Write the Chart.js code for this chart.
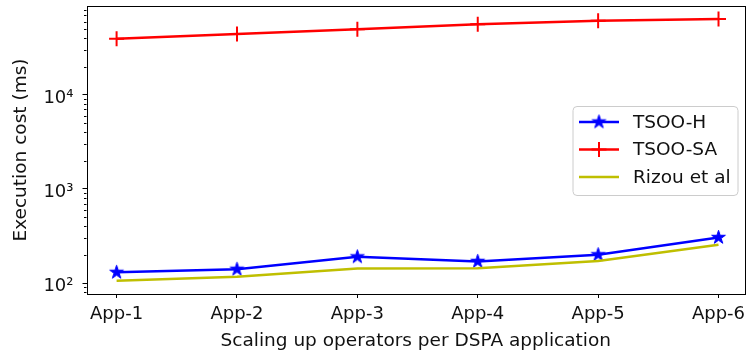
<!DOCTYPE html>
<html>
<head>
<meta charset="utf-8">
<script src="https://cdn.jsdelivr.net/npm/chart.js@4/dist/chart.umd.min.js"></script>
<style>
  html, body { margin: 0; padding: 0; background: #fff; }
  canvas { display: block; }
</style>
</head>
<body>
<canvas id="chart" width="746" height="356"></canvas>
<script>
// Applications on the x axis
const categories = ['App-1', 'App-2', 'App-3', 'App-4', 'App-5', 'App-6'];

// Execution cost per application (ms)
const tsooH  = [130, 140, 190, 170, 200, 305];
const tsooSA = [39500, 44500, 50000, 56500, 61500, 64000];
const rizou  = [106, 117, 143, 144, 172, 255];

// Labelled decades on the log axis
const yTickValues = [100, 1000, 10000];
const yTickLabels = ['10²', '10³', '10⁴'];

const seriesNames = ['TSOO-H', 'TSOO-SA', 'Rizou et al'];

const FONT = "'DejaVu Sans', sans-serif";
const TEXT = '#111';
const FS = 18.5;

// Filled five-point star used as the TSOO-H marker
function makeStar(color, r) {
  const size = Math.ceil(2 * r + 4);
  const c = document.createElement('canvas');
  c.width = size; c.height = size;
  const g = c.getContext('2d');
  const cx = size / 2, cy = size / 2;
  g.beginPath();
  for (let k = 0; k < 10; k++) {
    const a = -Math.PI / 2 + k * Math.PI / 5;
    const rad = k % 2 === 0 ? r : r * 0.382;
    const px = cx + rad * Math.cos(a), py = cy + rad * Math.sin(a);
    if (k === 0) g.moveTo(px, py); else g.lineTo(px, py);
  }
  g.closePath();
  g.fillStyle = color;
  g.fill();
  g.strokeStyle = color;
  g.lineWidth = 1;
  g.stroke();
  return c;
}
const starMarker = makeStar('#0000ff', 7.2);

const toPoints = arr => arr.map((v, i) => ({ x: i, y: v }));

// Axes frame, minor log ticks and the legend box
const framePlugin = {
  id: 'frame',
  afterDatasetsDraw(chart) {
    const { ctx, chartArea: a, scales: { y } } = chart;
    ctx.save();
    ctx.strokeStyle = '#000';
    ctx.lineWidth = 1;
    // minor ticks on the log axis
    for (let d = 10; d <= 100000; d *= 10) {
      for (let m = 2; m <= 9; m++) {
        const v = m * d;
        if (v < y.min || v > y.max) continue;
        const py = Math.round(y.getPixelForValue(v)) + 0.5;
        ctx.beginPath();
        ctx.moveTo(a.left - 2.5, py);
        ctx.lineTo(a.left, py);
        ctx.stroke();
      }
    }
    // spines
    ctx.strokeRect(Math.round(a.left) + 0.5, Math.round(a.top) + 0.5,
                   Math.round(a.right - a.left) - 1, Math.round(a.bottom - a.top));

    // legend
    const bw = 165, bh = 89, r = 4;
    const bx = a.right - 7 - bw, by = a.top + 100.5;
    ctx.beginPath();
    ctx.moveTo(bx + r, by);
    ctx.arcTo(bx + bw, by, bx + bw, by + bh, r);
    ctx.arcTo(bx + bw, by + bh, bx, by + bh, r);
    ctx.arcTo(bx, by + bh, bx, by, r);
    ctx.arcTo(bx, by, bx + bw, by, r);
    ctx.closePath();
    ctx.fillStyle = 'rgba(255,255,255,0.8)';
    ctx.fill();
    ctx.strokeStyle = '#cccccc';
    ctx.stroke();

    chart.data.datasets.forEach((ds, i) => {
      const ey = by + 15.5 + i * 27.5;
      const x0 = bx + 6, x1 = bx + 46, xm = (x0 + x1) / 2;
      ctx.strokeStyle = ds.borderColor;
      ctx.lineWidth = ds.borderWidth;
      ctx.beginPath();
      ctx.moveTo(x0, ey);
      ctx.lineTo(x1, ey);
      ctx.stroke();
      if (ds.pointRadius > 0) {
        ctx.fillStyle = ds.pointBackgroundColor;
        ctx.strokeStyle = ds.pointBorderColor;
        ctx.lineWidth = ds.pointBorderWidth;
        Chart.helpers.drawPoint(ctx, {
          pointStyle: ds.pointStyle, radius: ds.pointRadius,
          rotation: 0, borderWidth: ds.pointBorderWidth
        }, xm, ey);
      }
      ctx.fillStyle = TEXT;
      ctx.font = `${FS}px ${FONT}`;
      ctx.textAlign = 'left';
      ctx.textBaseline = 'middle';
      ctx.fillText(ds.label, bx + 60, ey + 1);
    });
    ctx.restore();
  }
};

new Chart(document.getElementById('chart'), {
  type: 'line',
  data: {
    datasets: [
      {
        label: seriesNames[0], data: toPoints(tsooH),
        borderColor: '#0000ff', borderWidth: 2.5,
        pointStyle: starMarker, pointRadius: 7,
        pointBackgroundColor: '#0000ff', pointBorderColor: '#0000ff', pointBorderWidth: 1,
        tension: 0, fill: false, order: 3
      },
      {
        label: seriesNames[1], data: toPoints(tsooSA),
        borderColor: '#ff0000', borderWidth: 2.5,
        pointStyle: 'cross', pointRadius: 7.5,
        pointBackgroundColor: '#ff0000', pointBorderColor: '#ff0000', pointBorderWidth: 2,
        tension: 0, fill: false, order: 2
      },
      {
        label: seriesNames[2], data: toPoints(rizou),
        borderColor: '#bfbf00', borderWidth: 2.5,
        pointRadius: 0,
        tension: 0, fill: false, order: 1
      }
    ]
  },
  options: {
    responsive: false,
    animation: false,
    events: [],
    layout: { autoPadding: false, padding: { top: 6, right: 1, left: 0, bottom: 0 } },
    plugins: { legend: { display: false }, tooltip: { enabled: false } },
    scales: {
      x: {
        type: 'linear',
        min: -0.25, max: 5.22,
        afterBuildTicks: s => { s.ticks = categories.map((_, i) => ({ value: i })); },
        afterFit: s => { s.height = 62; s.paddingLeft = 0; s.paddingRight = 0; },
        ticks: {
          callback: v => categories[v],
          autoSkip: false, maxRotation: 0,
          color: TEXT, padding: 6,
          font: { family: FONT, size: 18 }
        },
        grid: { display: true, drawOnChartArea: false, drawTicks: true, tickLength: 4, color: '#000', tickColor: '#000' },
        border: { display: false },
        title: {
          display: true, text: 'Scaling up operators per DSPA application',
          color: TEXT, font: { family: FONT, size: FS },
          padding: { top: 0, bottom: 4 }
        }
      },
      y: {
        type: 'logarithmic',
        min: 76.5, max: 88100,
        afterBuildTicks: s => { s.ticks = yTickValues.map(v => ({ value: v, major: true })); },
        afterFit: s => { s.width = 86.5; s.paddingTop = 0; s.paddingBottom = 0; },
        ticks: {
          callback: v => yTickLabels[yTickValues.indexOf(v)],
          color: TEXT, padding: 9,
          labelOffset: 3,
          font: { family: FONT, size: 18 }
        },
        grid: { display: true, drawOnChartArea: false, drawTicks: true, tickLength: 4, color: '#000', tickColor: '#000' },
        border: { display: false },
        title: {
          display: true, text: 'Execution cost (ms)',
          color: TEXT, font: { family: FONT, size: FS },
          padding: { top: 10, bottom: 0 }
        }
      }
    }
  },
  plugins: [framePlugin]
});
</script>
</body>
</html>
